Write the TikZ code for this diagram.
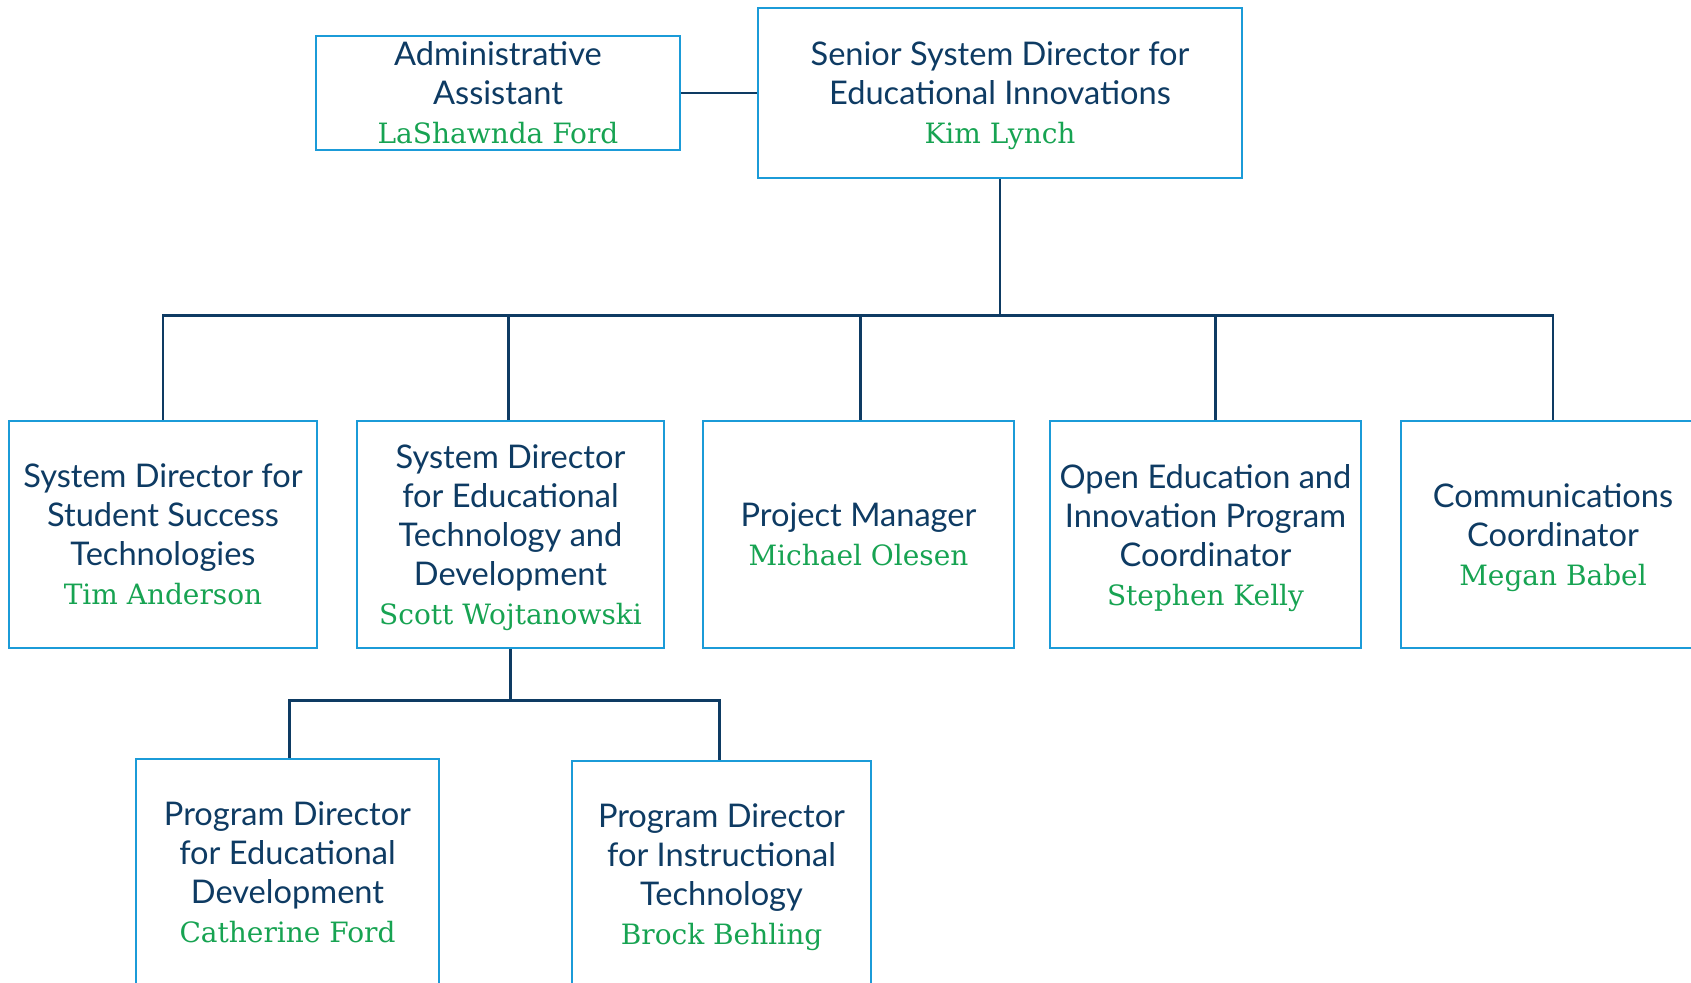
\documentclass[tikz,border=0pt]{standalone}
\usepackage{fontspec}
\setsansfont{Lato}
\newfontfamily\slabfont{DejaVu Serif}
\usetikzlibrary{positioning}
\definecolor{navy}{HTML}{0E3B63}
\definecolor{boxblue}{HTML}{1B9BD8}
\definecolor{leaf}{HTML}{17A352}
\newcommand{\who}[1]{{\slabfont\fontsize{14}{19.5}\selectfont\color{leaf}#1}}

\begin{document}
\begin{tikzpicture}[x=0.5pt,y=-0.5pt,line width=1.25pt,
                    font=\sffamily\fontsize{16.3}{19.5}\selectfont]
  \tikzstyle{post}=[draw=boxblue,text=navy,align=center,inner sep=0pt,
                    text depth=-2pt,minimum height=113.5pt]
  \tikzstyle{link}=[draw=navy,line width=1.4pt]

  \clip (0,0) rectangle (1691,983);

  \node[post,minimum width=242pt,minimum height=85pt] (senior) at (1000,93)
       {Senior System Director for\\Educational Innovations\\\who{Kim Lynch}};
  \node[post,minimum width=182pt,minimum height=57pt] (admin) at (498,93)
       {Administrative\\Assistant\\\who{LaShawnda Ford}};

  \node[post,minimum width=154pt]   (sst)   at (163,534.5)
       {System Director for\\Student Success\\Technologies\\\who{Tim Anderson}};
  \node[post,minimum width=153.5pt] (etd)   at (510.5,534.5)
       {System Director\\for Educational\\Technology and\\Development\\\who{Scott Wojtanowski}};
  \node[post,minimum width=155.5pt] (pm)    at (858.5,534.5)
       {Project Manager\\\who{Michael Olesen}};
  \node[post,minimum width=155.5pt] (oer)   at (1205.5,534.5)
       {Open Education and\\Innovation Program\\Coordinator\\\who{Stephen Kelly}};
  \node[post,minimum width=152pt]   (comms) at (1553,534.5)
       {Communications\\Coordinator\\\who{Megan Babel}};

  \node[post,minimum width=151.5pt] (edev)  at (287.5,872.5)
       {Program Director\\for Educational\\Development\\\who{Catherine Ford}};
  \node[post,minimum width=149.5pt] (itech) at (721.5,874.5)
       {Program Director\\for Instructional\\Technology\\\who{Brock Behling}};

  % reporting lines
  \draw[link] (admin) -- (senior);
  \coordinate (bus) at ([yshift=-68pt]senior.south);
  \foreach \n/\dx in {sst/0,etd/-1,pm/1,oer/4.8,comms/0}
    \draw[link] (senior.south) -- (bus) -| ([xshift=\dx pt]\n.north);
  \coordinate (subbus) at ([yshift=-25.5pt]etd.south);
  \foreach \n/\dx in {edev/1,itech/-1}
    \draw[link] (etd.south) -- (subbus) -| ([xshift=\dx pt]\n.north);
\end{tikzpicture}
\end{document}
